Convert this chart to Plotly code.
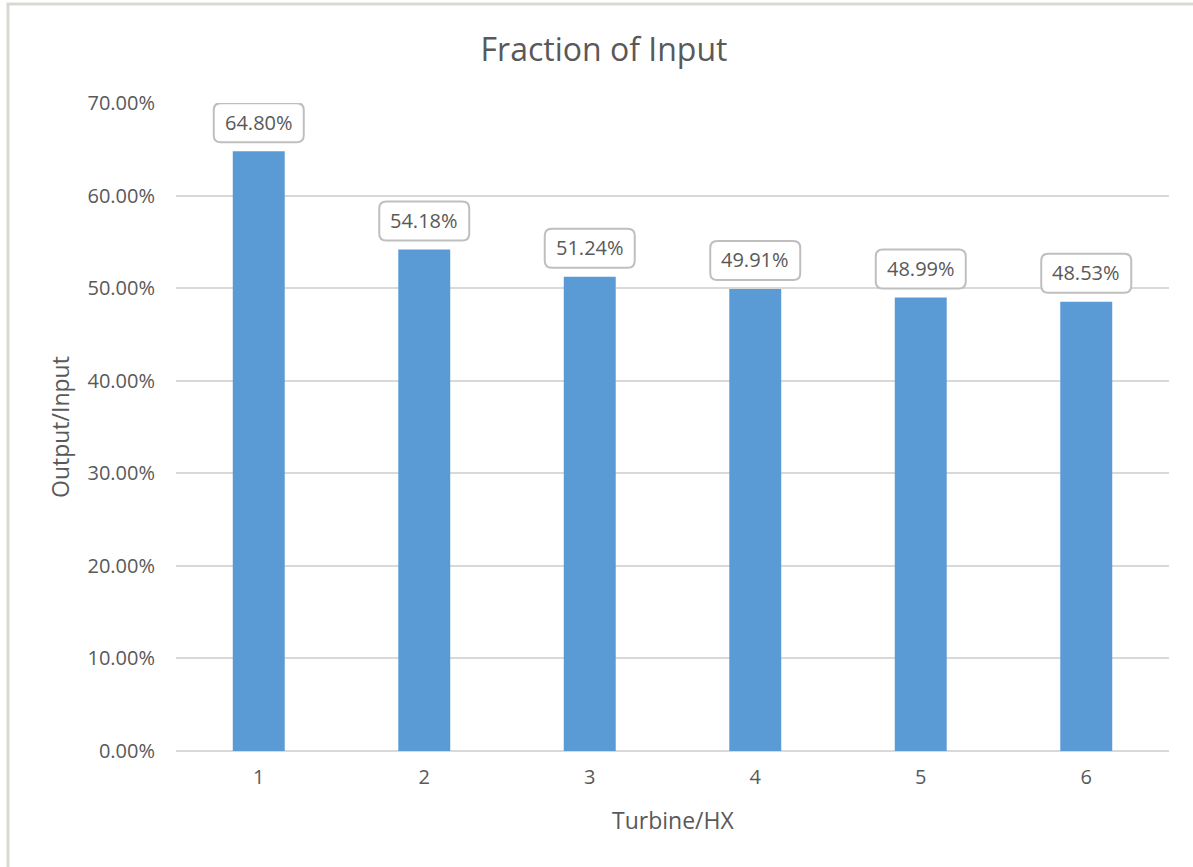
import plotly.graph_objects as go

categories = ["1", "2", "3", "4", "5", "6"]
values = [0.6480, 0.5418, 0.5124, 0.4991, 0.4899, 0.4853]
labels = ["64.80%", "54.18%", "51.24%", "49.91%", "48.99%", "48.53%"]

TXT = "#595959"
FONT = "Open Sans"
W, H = 1193, 867
L, R, T, B = 176, 24, 103, 116
PW, PH = W - L - R, H - T - B

fig = go.Figure(go.Bar(
    x=categories, y=values, marker=dict(color="#5B9BD5", line=dict(width=0)),
    width=0.314, hoverinfo="skip"))

def rounded_path(w, h, r, b):
    x0, x1 = -w / 2, w / 2
    y0, y1 = b, b + h
    return (f"M {x0+r},{y0} L {x1-r},{y0} Q {x1},{y0} {x1},{y0+r} "
            f"L {x1},{y1-r} Q {x1},{y1} {x1-r},{y1} L {x0+r},{y1} "
            f"Q {x0},{y1} {x0},{y1-r} L {x0},{y0+r} Q {x0},{y0} {x0+r},{y0} Z")

shapes = []
annotations = []
for i, (v, lab) in enumerate(zip(values, labels)):
    shapes.append(dict(type="path", xref="x", yref="y", xsizemode="pixel", ysizemode="pixel",
                       xanchor=i, yanchor=v, path=rounded_path(90, 39, 7, 9),
                       line=dict(color="#BFBFBF", width=2), fillcolor="white", layer="above"))
    annotations.append(dict(x=i, y=v, xref="x", yref="y", text=lab, showarrow=False, yshift=29,
                            xanchor="center", yanchor="middle",
                            font=dict(family=FONT, size=20, color=TXT)))

# axis titles
annotations.append(dict(text="Output/Input", xref="paper", yref="paper",
                        x=(60 - L) / PW, y=0.5, textangle=-90, showarrow=False,
                        xanchor="center", yanchor="middle",
                        font=dict(family=FONT, size=23, color=TXT)))
annotations.append(dict(text="Turbine/HX", xref="paper", yref="paper",
                        x=0.5, y=-(820 - (H - B)) / PH, showarrow=False,
                        xanchor="center", yanchor="middle",
                        font=dict(family=FONT, size=23, color=TXT)))

# outer chart border (top and left visible)
shapes.append(dict(type="rect", xref="paper", yref="paper",
                   x0=(8 - L) / PW, x1=(1215 - L) / PW,
                   y0=((H - B) - 890) / PH, y1=((H - B) - 4) / PH,
                   line=dict(color="#D9D9D3", width=3), layer="below"))

fig.update_layout(
    width=W, height=H,
    margin=dict(l=L, r=R, t=T, b=B, autoexpand=False),
    paper_bgcolor="white", plot_bgcolor="white",
    title=dict(text="Fraction of Input", x=604 / W, xanchor="center", y=1 - 50 / H, yanchor="middle",
               font=dict(family=FONT, size=32, color=TXT)),
    font=dict(family=FONT, size=20, color=TXT),
    showlegend=False,
    shapes=shapes, annotations=annotations,
)
fig.update_xaxes(type="category", range=[-0.5, 5.5],
                 showgrid=False, showline=False, ticks="", tickfont=dict(family=FONT, size=20, color=TXT),
                 ticklabelstandoff=12)
fig.update_yaxes(range=[0, 0.7], dtick=0.1, tick0=0, tickformat=".2%",
                 showgrid=True, gridcolor="#D9D9D9", gridwidth=1.5,
                 zeroline=True, zerolinecolor="#D9D9D9", zerolinewidth=1.5,
                 showline=False, ticks="", tickfont=dict(family=FONT, size=20, color=TXT),
                 ticklabelstandoff=20)

fig.write_html("out.html", config={"displayModeBar": False},
               post_script="document.body.style.margin='0';")
